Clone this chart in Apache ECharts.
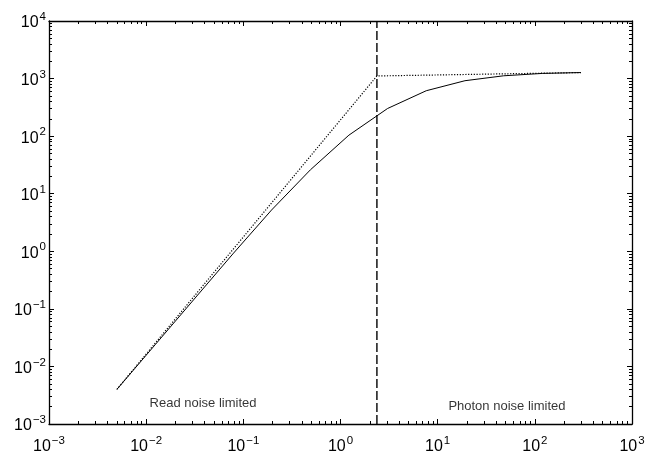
<!DOCTYPE html>
<html>
<head>
<meta charset="utf-8">
<script src="https://cdn.jsdelivr.net/npm/echarts@6/dist/echarts.min.js"></script>
<style>
html,body{margin:0;padding:0;background:#fff;}
#chart{width:646px;height:453px;}
</style>
</head>
<body>
<div id="chart"></div>
<script>
// signal vs. illumination, log-log
const xVals = [0.005, 0.0125, 0.03125, 0.078, 0.195, 0.49, 1.22, 3.05, 7.63, 19.1, 47.7, 119, 298];
const solidVals = [0.004, 0.0243, 0.148, 0.9, 5.2, 26, 104, 302, 615, 918, 1118, 1228, 1272];
const dottedX = [0.005, 2.37, 298];
const dottedY = [0.004, 1110, 1272];
const limitX = 2.37;
const limitY = [0.001, 10000];
const notes = [
    { name: 'Read noise limited', x: 0.0385, y: 0.0023 },
    { name: 'Photon noise limited', x: 51.6, y: 0.00205 }
];
const xMinor = [];
const yMinor = [];
for (let e = -3; e < 3; e++) for (let m = 2; m <= 9; m++) xMinor.push(+(m * Math.pow(10, e)).toPrecision(2));
for (let e = -3; e < 4; e++) for (let m = 2; m <= 9; m++) yMinor.push(+(m * Math.pow(10, e)).toPrecision(2));

const chart = echarts.init(document.getElementById('chart'));
const font = '"Liberation Sans", Arial, Helvetica, sans-serif';

function pow10Label(v) {
    const e = Math.round(Math.log10(v));
    const s = e < 0 ? '\u2212' + (-e) : String(e);
    return '{b|10}{s|' + s + '}';
}
const richLabel = {
    b: { fontSize: 16, fontFamily: font, color: '#000', verticalAlign: 'bottom', lineHeight: 20 },
    s: { fontSize: 11.5, fontFamily: font, color: '#000', verticalAlign: 'top', lineHeight: 20, padding: [0, 0, 10, 1] }
};

function makeAxis(kind, pos, opts) {
    const base = {
        type: 'log',
        logBase: 10,
        position: pos,
        min: 0.001,
        max: kind === 'x' ? 1000 : 10000,
        splitLine: { show: false },
        axisLine: { show: false, onZero: false, lineStyle: { color: '#000', width: 1.3 } },
        axisTick: { show: true, inside: true, length: 5, lineStyle: { color: '#000', width: 1 } },
        axisLabel: { show: false },
        minorTick: { show: false }
    };
    return Object.assign(base, opts);
}

const option = {
    animation: false,
    backgroundColor: '#fff',
    grid: { left: 49, right: 14, top: 21, bottom: 29, outerBoundsMode: 'none', containLabel: false },
    xAxis: [
        makeAxis('x', 'bottom', {
            axisLine: { show: true, onZero: false, lineStyle: { color: '#000', width: 1.3 } },
            axisLabel: { show: true, margin: 11, formatter: pow10Label, rich: richLabel }
        }),
        makeAxis('x', 'bottom', { axisTick: { show: true, inside: true, length: 3, customValues: xMinor, lineStyle: { color: '#000', width: 1 } } }),
        makeAxis('x', 'top', { axisLine: { show: true, onZero: false, lineStyle: { color: '#000', width: 1.3 } } }),
        makeAxis('x', 'top', { axisTick: { show: true, inside: true, length: 3, customValues: xMinor, lineStyle: { color: '#000', width: 1 } } })
    ],
    yAxis: [
        makeAxis('y', 'left', {
            axisLine: { show: true, onZero: false, lineStyle: { color: '#000', width: 1.3 } },
            axisLabel: { show: true, margin: 3, formatter: pow10Label, rich: richLabel }
        }),
        makeAxis('y', 'left', { axisTick: { show: true, inside: true, length: 3, customValues: yMinor, lineStyle: { color: '#000', width: 1 } } }),
        makeAxis('y', 'right', { axisLine: { show: true, onZero: false, lineStyle: { color: '#000', width: 1.3 } } }),
        makeAxis('y', 'right', { axisTick: { show: true, inside: true, length: 3, customValues: yMinor, lineStyle: { color: '#000', width: 1 } } })
    ],
    series: [
        {
            name: 'solid',
            type: 'line',
            showSymbol: false,
            symbol: 'none',
            lineStyle: { color: '#000', width: 1 },
            data: xVals.map((x, i) => [x, solidVals[i]])
        },
        {
            name: 'dotted',
            type: 'line',
            showSymbol: false,
            symbol: 'none',
            lineStyle: { color: '#000', width: 1.2, type: [1.2, 1.6] },
            data: dottedX.map((x, i) => [x, dottedY[i]])
        },
        {
            name: 'limit',
            type: 'line',
            showSymbol: false,
            symbol: 'none',
            lineStyle: { color: '#000', width: 1.4, type: [9, 3] },
            data: limitY.map(y => [limitX, y])
        },
        {
            name: 'notes',
            type: 'scatter',
            symbolSize: 0,
            silent: true,
            label: {
                show: true,
                position: 'inside',
                formatter: p => p.name,
                color: '#000',
                fontSize: 13,
                fontFamily: font
            },
            data: notes.map(n => ({ name: n.name, value: [n.x, n.y] }))
        }
    ]
};

chart.setOption(option);
</script>
</body>
</html>
